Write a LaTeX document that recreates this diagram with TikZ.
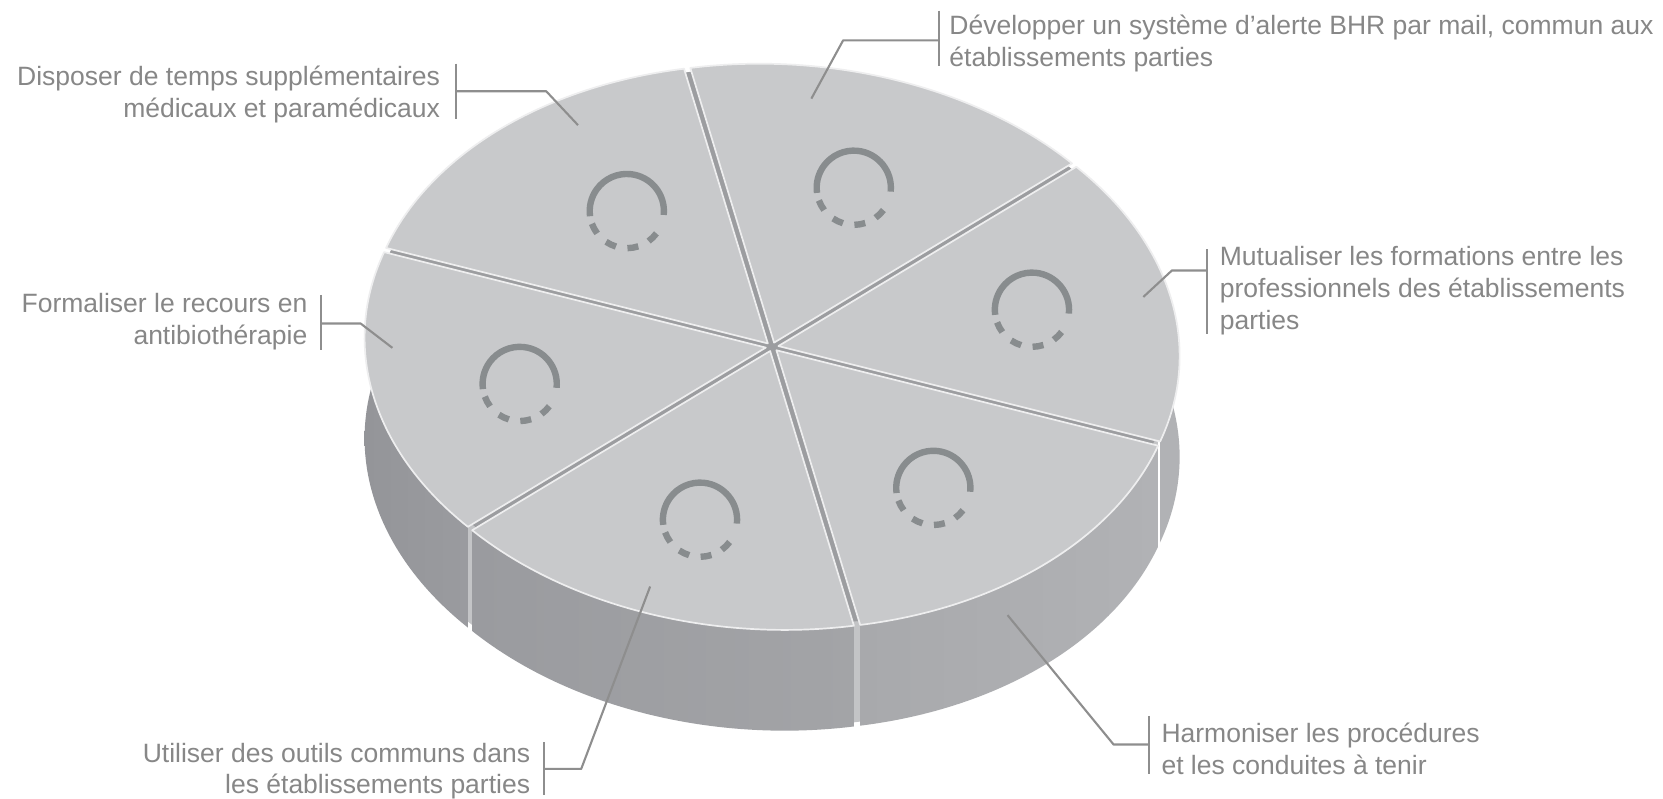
\documentclass[tikz,border=0pt]{standalone}
\usepackage{fontspec}
\setmainfont{Liberation Sans}
\definecolor{topc}{HTML}{C8C9CB}
\definecolor{rimc}{HTML}{EEEEEF}
\definecolor{gapc}{HTML}{9C9DA0}
\definecolor{seamc}{HTML}{C3C4C6}
\definecolor{txtc}{HTML}{878787}
\definecolor{linec}{HTML}{8E8E8E}
\definecolor{ringc}{HTML}{888C8E}
\definecolor{wallA}{HTML}{949599}
\definecolor{wallB}{HTML}{9A9B9F}
\definecolor{wallC}{HTML}{A3A4A7}
\definecolor{wallD}{HTML}{A8A9AC}
\definecolor{wallE}{HTML}{B1B2B5}
\newcommand\xo{0}\newcommand\yo{0}
\newcommand\setoff[1]{%
  \pgfmathsetmacro\xo{0.016*(-79*cos(#1)+370*sin(#1))}%
  \pgfmathsetmacro\yo{0.016*(259*cos(#1)+45.6*sin(#1))}}
\newcommand\wallpart[4]{%
  \setoff{(#1+#2)/2}%
  \shade[left color=#3,right color=#4,shift={(\xo,\yo)}]
    plot[domain=#1:#2,samples=60,variable=\t] ({ex(\t)},{ey(\t)})
    -- plot[domain=#1:#2,samples=60,variable=\t] ({ex(#1+#2-\t)},{ey(#1+#2-\t)-95}) -- cycle;}
\newcommand\topslice[2]{%
  \setoff{(#1+#2)/2}%
  \path[topface,shift={(\xo,\yo)}] (728,-327)
    -- plot[domain=#1:#2,samples=60,variable=\t] ({ex(\t)},{ey(\t)}) -- cycle;}
\newcommand\seampart[1]{%
  \fill[seamc] ({ex(#1-2)},{ey(#1-2)}) -- ({ex(#1+2)},{ey(#1+2)})
   -- ({ex(#1+2)},{ey(#1+2)-95}) -- ({ex(#1-2)},{ey(#1-2)-95}) -- cycle;}
\newcommand\ringicon[2]{%
  \draw[ring] (#1,-#2) ++(-6:37.1pt) arc[start angle=-6,end angle=188,radius=37.1pt];
  \foreach \a in {200,236,271,306}{\draw[ring] (#1,-#2) ++(\a:37.1pt) arc[start angle=\a,end angle=\a+17,radius=37.1pt];}}
\begin{document}
\begin{tikzpicture}[x=1.0606pt,y=1.0606pt,
  declare function={ex(\t)=728-79*cos(\t)+370*sin(\t); ey(\t)=-327+259*cos(\t)+45.6*sin(\t);},
  topface/.style={fill=topc,draw=rimc,line width=1.7pt,line join=round},
  lbl/.style={font=\fontsize{26.5}{31.8}\selectfont,text=txtc,inner sep=0pt},
  leader/.style={draw=linec,line width=2.1pt},
  ring/.style={draw=ringc,line width=6.4pt}]
\useasboundingbox (0,0) rectangle (1568,-753.3);
\fill[white] (0,0) rectangle (1568,-753.3);
% seams
\seampart{120}\seampart{180}\seampart{240}
% walls
\wallpart{60}{120}{wallE}{wallE}
\wallpart{240}{300}{wallA}{wallB}
\wallpart{120}{180}{wallD}{wallE}
\wallpart{180}{240}{wallB}{wallC}
% gap underlay
\fill[gapc] plot[domain=0:360,samples=200,variable=\t] ({ex(\t)},{ey(\t)}) -- cycle;
% top faces
\topslice{0}{60}
\topslice{60}{120}
\topslice{120}{180}
\topslice{180}{240}
\topslice{240}{300}
\topslice{300}{360}
% icons
\ringicon{591}{199}
\ringicon{805}{177}
\ringicon{973}{292}
\ringicon{490}{362}
\ringicon{660}{490}
\ringicon{880}{460}
% labels
\node[lbl,anchor=east,align=right] (t1) at (415,-89) {Disposer de temps supplémentaires\\médicaux et paramédicaux};
\node[lbl,anchor=west,align=left] (t2) at (895,-41) {Développer un système d’alerte BHR par mail, commun aux\\établissements parties};
\node[lbl,anchor=west,align=left] (t3) at (1150,-274) {Mutualiser les formations entre les\\professionnels des établissements\\parties};
\node[lbl,anchor=east,align=right] (t4) at (290,-303) {Formaliser le recours en\\antibiothérapie};
\node[lbl,anchor=east,align=right] (t5) at (500,-727) {Utiliser des outils communs dans\\les établissements parties};
\node[lbl,anchor=west,align=left] (t6) at (1095,-706) {Harmoniser les procédures\\et les conduites à tenir};
% leaders
\coordinate (a1) at (430,-60); \coordinate (b1) at (430,-112); \coordinate (c1) at (430,-86); \coordinate (d1) at (515,-86); \coordinate (e1) at (545,-118);
\coordinate (a2) at (885,-10); \coordinate (b2) at (885,-62); \coordinate (c2) at (885,-38); \coordinate (d2) at (795,-38); \coordinate (e2) at (765,-93);
\coordinate (a3) at (1138,-235); \coordinate (b3) at (1138,-315); \coordinate (c3) at (1138,-255); \coordinate (d3) at (1105,-255); \coordinate (e3) at (1078,-280);
\coordinate (a4) at (303,-278); \coordinate (b4) at (303,-330); \coordinate (c4) at (303,-305); \coordinate (d4) at (340,-305); \coordinate (e4) at (370,-328);
\coordinate (a5) at (513,-700); \coordinate (b5) at (513,-750); \coordinate (c5) at (513,-725); \coordinate (d5) at (548,-725); \coordinate (e5) at (613,-553);
\coordinate (a6) at (1083,-675); \coordinate (b6) at (1083,-730); \coordinate (c6) at (1083,-702); \coordinate (d6) at (1050,-702); \coordinate (e6) at (950,-580);
\foreach \i in {1,...,6}{\draw[leader] (a\i) -- (b\i); \draw[leader,line join=round] (c\i) -- (d\i) -- (e\i);}
\end{tikzpicture}
\end{document}
